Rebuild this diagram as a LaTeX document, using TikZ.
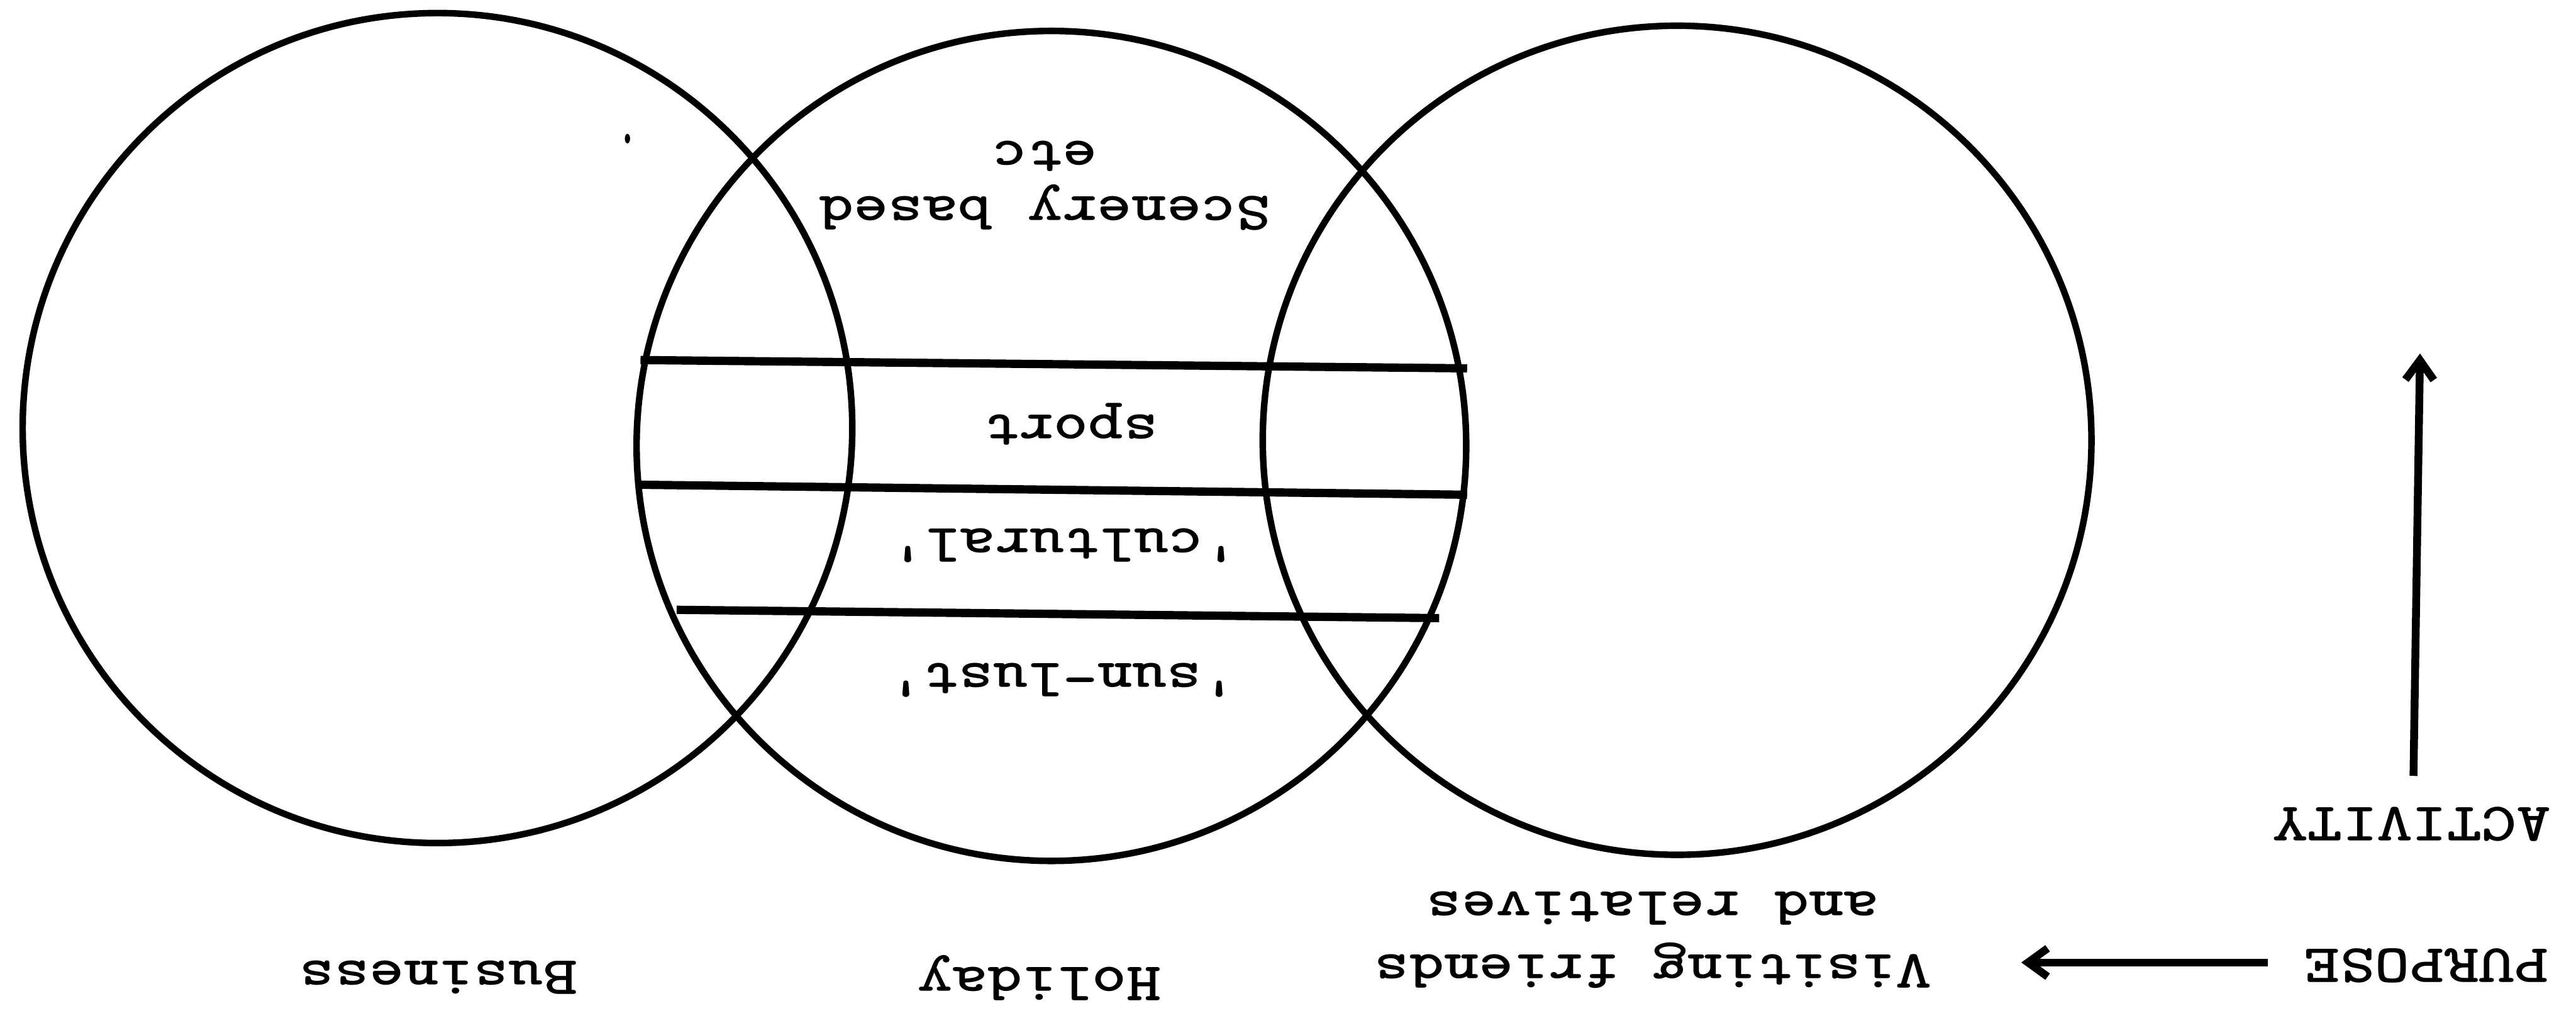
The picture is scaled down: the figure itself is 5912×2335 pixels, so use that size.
\documentclass[tikz,border=0pt]{standalone}
\usepackage{fontspec}
\usetikzlibrary{arrows.meta}

\tikzset{
  ring/.style={line width=1.5pt},
  band/.style={line width=1.9pt},
  lbl/.style={font=\ttfamily\bfseries\fontsize{15.2}{15.5}\selectfont, rotate=180, yscale=0.82, inner sep=0.75pt, align=center},
  pointer/.style={line width=1.8pt, -{Straight Barb[length=4.5pt,width=6.5pt]}}
}

\begin{document}
\begin{tikzpicture}[x=0.1pt,y=0.1pt,yscale=-1,xscale=1]
\useasboundingbox (0,0) rectangle (5912,2335);

%Shape: Circle [business]
\draw [ring] (1004,982) circle [radius=952];
%Shape: Circle [holiday]
\draw [ring] (2413,1023) circle [radius=952];
%Shape: Circle [visiting]
\draw [ring] (3849,1010) circle [radius=951];

%Straight Lines [bands]
\draw [band] (1470,826) -- (3367,845);
\draw [band] (1463,1112) -- (3367,1135);
\draw [band] (1553,1399) -- (3303,1418);

%speck
\fill (1440,318) ellipse [x radius=6, y radius=11];

%Straight Lines [arrows]
\coordinate (purposetail) at (5205,2208);
\coordinate (purposehead) at (4639,2208);
\draw [pointer] (purposetail) -- (purposehead);
\coordinate (activitytail) at (5539,1780);
\coordinate (activityhead) at (5554,811);
\draw [pointer] (activitytail) -- (activityhead);

% Text Node
\node [lbl] (scenery) at (2398,426) {Scenery based\\etc};
% Text Node
\node [lbl] (sport) at (2458,973) {sport};
% Text Node
\node [lbl] (cultural) at (2443,1252) {'cultural'};
% Text Node
\node [lbl] (sunlust) at (2439,1561) {'sun-lust'};
% Text Node
\node [lbl] (business) at (1007,2243) {Business};
% Text Node
\node [lbl] (holiday) at (2386,2243) {Holiday};
% Text Node
\node [lbl] (visiting) at (3793,2156) {Visiting friends\\[2pt]and relatives};
% Text Node
\node [lbl] (purpose) at (5570,2215) {PURPOSE};
% Text Node
\node [lbl] (activity) at (5536,1890) {ACTIVITY};

\end{tikzpicture}
\end{document}
